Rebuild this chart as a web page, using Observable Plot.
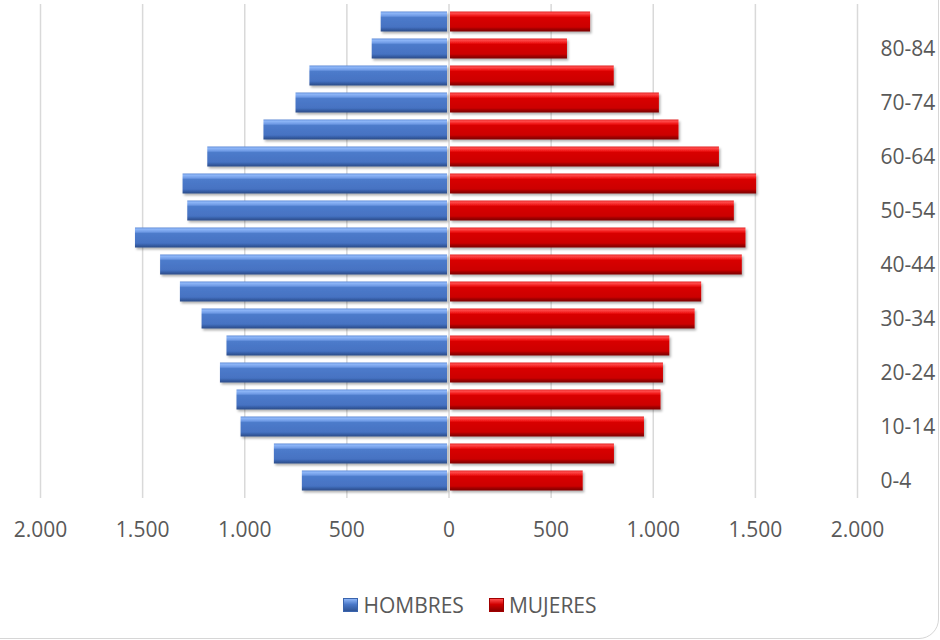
<!DOCTYPE html>
<html>
<head>
<meta charset="utf-8">
<script src="https://cdn.jsdelivr.net/npm/d3@7"></script>
<script src="https://cdn.jsdelivr.net/npm/@observablehq/plot@0.6"></script>
<style>
  body { margin: 0; background: #fff; }
  #wrap { position: relative; width: 940px; height: 640px; overflow: hidden; font-family: "Open Sans", sans-serif; background:#fff; }
  #card { position: absolute; left: -30px; top: -30px; width: 969px; height: 669px; border: 1.5px solid #d6d6d6; border-radius: 20px; box-sizing: border-box; }
  #chart { position: absolute; left: 0; top: 0; }
  #legend { position: absolute; left: 0; top: 592px; width: 940px; display: flex; justify-content: center; align-items: center; font-size: 21px; line-height: 26px; color: #595959; }
  .item { display: flex; align-items: center; }
  .sw { width: 15px; height: 14px; margin-right: 5px; box-sizing: border-box; }
  .sw.h { background: linear-gradient(#8db5f7, #4a78c8 45%, #2f5597); border: 1px solid #3a64ad; }
  .sw.m { background: linear-gradient(#ff5050, #d00000 45%, #8a0000); border: 1px solid #a00000; }
</style>
</head>
<body>
<div id="wrap">
  <div id="card"></div>
  <div id="chart"></div>
  <div id="legend">
    <div class="item"><div class="sw h"></div><span>HOMBRES</span></div>
    <div class="item" style="margin-left:25px"><div class="sw m"></div><span>MUJERES</span></div>
  </div>
</div>
<script>
const ages = ["0-4","5-9","10-14","15-19","20-24","25-29","30-34","35-39","40-44","45-49","50-54","55-59","60-64","65-69","70-74","75-79","80-84","85+"];
const hombres = [718, 855, 1018, 1038, 1119, 1087, 1209, 1315, 1412, 1535, 1279, 1302, 1181, 906, 749, 681, 376, 332];
const mujeres = [657, 810, 957, 1038, 1050, 1081, 1205, 1237, 1436, 1454, 1397, 1506, 1324, 1126, 1030, 809, 580, 693];
const xTicks = [-2000, -1500, -1000, -500, 0, 500, 1000, 1500, 2000];
const ageTicks = ["0-4","10-14","20-24","30-34","40-44","50-54","60-64","70-74","80-84"];

const locale = d3.formatLocale({decimal: ",", thousands: ".", grouping: [3], currency: ["", "€"]});
const fmt = locale.format(",");

const menData = ages.map((a, i) => ({age: a, value: -hombres[i]}));
const womenData = ages.map((a, i) => ({age: a, value: mujeres[i]}));

const svg = Plot.plot({
  width: 940,
  height: 560,
  marginLeft: 40,
  marginRight: 83,
  marginTop: 4,
  marginBottom: 62,
  style: {fontFamily: "'Open Sans', sans-serif", fontSize: "21px", color: "#595959", background: "transparent"},
  x: {domain: [-2000, 2000]},
  y: {domain: ages.slice().reverse(), padding: 0},
  marks: [
    Plot.gridX(xTicks, {stroke: "#d9d9d9", strokeOpacity: 1, strokeWidth: 1.5}),
    Plot.barX(menData, {y: "age", x1: d => 0, x2: "value", fill: "url(#gBlue)", insetTop: 3.5, insetBottom: 3.5, insetRight: 1.5}),
    Plot.barX(womenData, {y: "age", x1: d => 0, x2: "value", fill: "url(#gRed)", insetTop: 3.5, insetBottom: 3.5, insetLeft: 1.5}),
    Plot.axisX(xTicks, {tickFormat: d => fmt(Math.abs(d)), tickSize: 0, tickPadding: 24, label: null, fontSize: 21}),
    Plot.axisY(ageTicks, {anchor: "right", tickSize: 0, tickPadding: 23, label: null, fontSize: 21})
  ]
});

const s = d3.select(svg);
const defs = s.insert("defs", ":first-child");
function grad(id, stops) {
  const g = defs.append("linearGradient").attr("id", id).attr("x1", 0).attr("y1", 0).attr("x2", 0).attr("y2", 1);
  stops.forEach(([o, c]) => g.append("stop").attr("offset", o).attr("stop-color", c));
}
grad("gBlue", [["0", "#5d8ad6"], ["0.08", "#8fb7f8"], ["0.22", "#6f9be6"], ["0.3", "#4d7bcb"], ["0.78", "#4672c2"], ["0.86", "#3a63ad"], ["1", "#2a4a86"]]);
grad("gRed", [["0", "#e02020"], ["0.08", "#ff4b4b"], ["0.22", "#f01818"], ["0.3", "#d80000"], ["0.78", "#cc0000"], ["0.86", "#a80000"], ["1", "#7a0000"]]);
const f = defs.append("filter").attr("id", "shadow").attr("x", "-5%").attr("y", "-40%").attr("width", "115%").attr("height", "190%");
f.append("feDropShadow").attr("dx", 1.5).attr("dy", 2).attr("stdDeviation", 1.2).attr("flood-color", "#000").attr("flood-opacity", 0.3);
s.selectAll('g[aria-label="bar"]').attr("filter", "url(#shadow)");

document.getElementById("chart").appendChild(svg);
</script>
</body>
</html>
